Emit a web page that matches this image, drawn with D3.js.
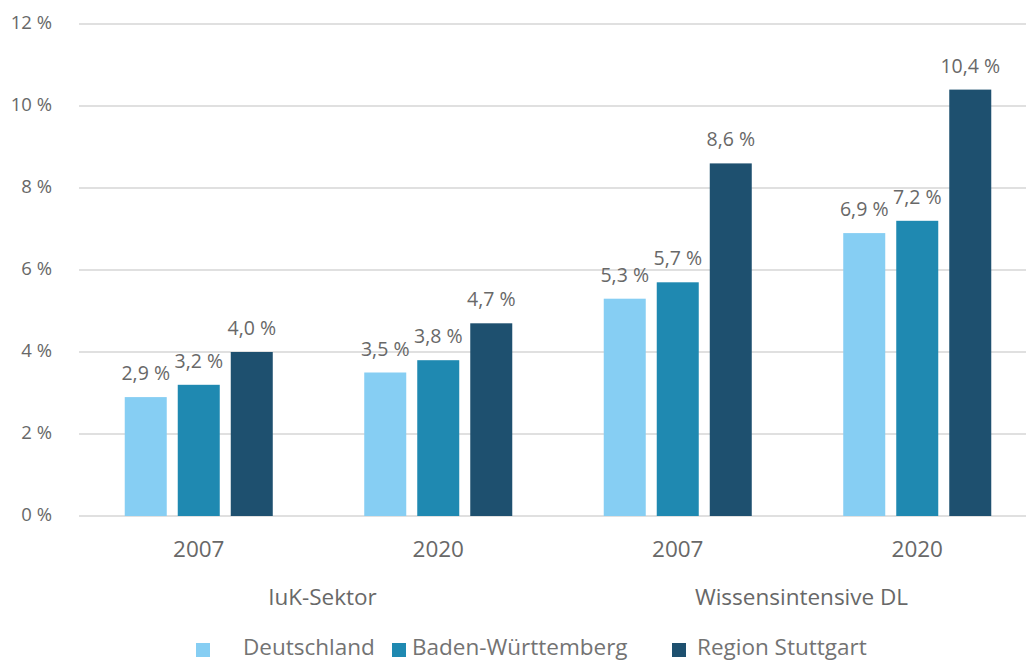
<!DOCTYPE html>
<html>
<head>
    <meta charset="utf-8">
    <title>IuK-Sektor und Wissensintensive DL</title>
    <script src="https://cdn.jsdelivr.net/npm/d3@7"></script>
    <style>
        body {
            margin: 0;
            padding: 0;
            background-color: white;
        }

        svg text {
            font-family: "Open Sans", "Noto Sans", sans-serif;
            fill: #686868;
        }

        .grid line {
            stroke: #d6d6d6;
            stroke-width: 1.5px;
        }
    </style>
</head>
<body>
    <div id="chart"></div>

    <script>
        // data
        const sectors = ["IuK-Sektor", "Wissensintensive DL"];
        const years = ["2007", "2020"];
        const regions = ["Deutschland", "Baden-Württemberg", "Region Stuttgart"];
        const deutschland = [2.9, 3.5, 5.3, 6.9];
        const badenWuerttemberg = [3.2, 3.8, 5.7, 7.2];
        const regionStuttgart = [4.0, 4.7, 8.6, 10.4];
        const yTicks = [0, 2, 4, 6, 8, 10, 12];

        const colors = ["#86cef3", "#1f89b1", "#1e506f"];
        const seriesValues = [deutschland, badenWuerttemberg, regionStuttgart];

        // one group per sector/year pair
        const groups = [];
        sectors.forEach(s => years.forEach(y => groups.push({ sector: s, year: y, key: s + "|" + y })));
        groups.forEach((g, i) => {
            g.values = regions.map((r, j) => ({ region: r, value: seriesValues[j][i] }));
        });

        const width = 1026, height = 661;
        const plotLeft = 79, plotRight = 1037, plotTop = 24, plotBottom = 516;

        const svg = d3.select("#chart")
            .append("svg")
            .attr("width", width)
            .attr("height", height);

        const x0 = d3.scaleBand()
            .domain(groups.map(g => g.key))
            .range([plotLeft, plotRight]);

        const x1 = d3.scaleBand()
            .domain(regions)
            .range([0, x0.bandwidth()])
            .paddingInner(11 / 53)
            .paddingOuter(0.863);

        const color = d3.scaleOrdinal().domain(regions).range(colors);

        const y = d3.scaleLinear()
            .domain([0, 12])
            .range([plotBottom, plotTop]);

        const fmt = v => d3.format(".1f")(v).replace(".", ",") + " %";

        // gridlines
        svg.append("g")
            .attr("class", "grid")
            .selectAll("line")
            .data(yTicks)
            .join("line")
            .attr("x1", plotLeft)
            .attr("x2", width)
            .attr("y1", d => y(d))
            .attr("y2", d => y(d));

        // y labels
        svg.append("g")
            .selectAll("text")
            .data(yTicks)
            .join("text")
            .attr("x", 52)
            .attr("y", d => y(d) + 5)
            .attr("text-anchor", "end")
            .style("font-size", "18.5px")
            .text(d => d + " %");

        // bars
        const grp = svg.selectAll(".group")
            .data(groups)
            .join("g")
            .attr("class", "group")
            .attr("transform", d => `translate(${x0(d.key)},0)`);

        grp.selectAll("rect")
            .data(d => d.values)
            .join("rect")
            .attr("x", d => x1(d.region))
            .attr("width", x1.bandwidth())
            .attr("y", d => y(d.value))
            .attr("height", d => plotBottom - y(d.value))
            .attr("fill", d => color(d.region));

        grp.selectAll("text.value")
            .data(d => d.values)
            .join("text")
            .attr("class", "value")
            .attr("x", d => x1(d.region) + x1.bandwidth() / 2)
            .attr("y", d => y(d.value) - 17)
            .attr("text-anchor", "middle")
            .style("font-size", "19.5px")
            .text(d => fmt(d.value));

        // year labels
        svg.append("g")
            .selectAll("text")
            .data(groups)
            .join("text")
            .attr("x", d => x0(d.key) + x0.bandwidth() / 2)
            .attr("y", 557)
            .attr("text-anchor", "middle")
            .style("font-size", "22.5px")
            .text(d => d.year);

        // sector labels, centred under their two years
        svg.append("g")
            .selectAll("text")
            .data(sectors)
            .join("text")
            .attr("x", s => {
                const gs = groups.filter(g => g.sector === s);
                return d3.mean(gs, g => x0(g.key) + x0.bandwidth() / 2) + 4;
            })
            .attr("y", 605)
            .attr("text-anchor", "middle")
            .style("font-size", "22.5px")
            .text(s => s);

        // legend
        const legendSquareX = [196, 392, 672];
        const legendTextX = [243, 412, 697];

        const legend = svg.append("g")
            .selectAll("g")
            .data(regions)
            .join("g");

        legend.append("rect")
            .attr("x", (d, i) => legendSquareX[i])
            .attr("y", 643)
            .attr("width", 14)
            .attr("height", 14)
            .attr("fill", d => color(d));

        legend.append("text")
            .attr("x", (d, i) => legendTextX[i])
            .attr("y", 655)
            .style("font-size", "22.5px")
            .style("fill", "#737373")
            .text(d => d);
    </script>
</body>
</html>
